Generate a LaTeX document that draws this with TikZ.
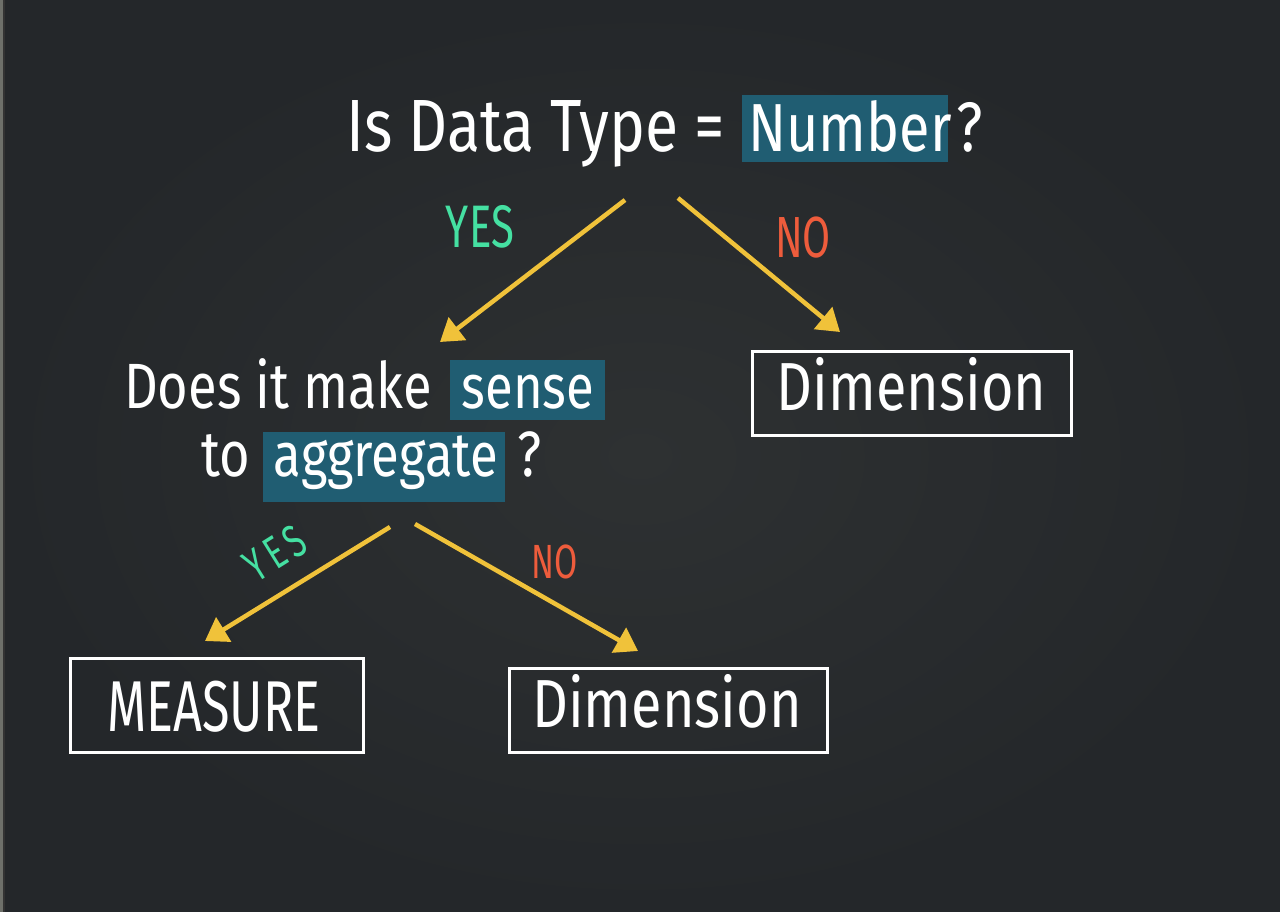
\documentclass[tikz,border=0pt]{standalone}
\usepackage{fontspec}
\setmainfont{Fira Sans}
\newfontfamily\hand[FakeStretch=0.82]{Fira Sans}
\newfontfamily\handnarrow[FakeStretch=0.7]{Fira Sans}
\newfontfamily\handspaced[FakeStretch=0.7,LetterSpace=12]{Fira Sans}
\usetikzlibrary{arrows.meta,calc}
\definecolor{board}{HTML}{2E3132}
\definecolor{boarddark}{HTML}{24272A}
\definecolor{hilite}{HTML}{205D72}
\definecolor{chalkyellow}{HTML}{F0C23A}
\definecolor{chalkgreen}{HTML}{45E0A2}
\definecolor{chalkred}{HTML}{EE5C3C}
\definecolor{edge}{HTML}{6E706A}
\tikzset{
  handtext/.style={text=white,font=\hand\fontsize{#1}{#1}\selectfont,inner sep=0pt,anchor=base},
  handtext/.default=64,
  hl/.style={fill=hilite},
  answerbox/.style={draw=white,line width=3pt,inner sep=0pt},
  flow/.style={draw=chalkyellow,line width=4.5pt,-{Triangle[width=28pt,length=22pt]}},
  yeslabel/.style={text=chalkgreen,font=\handnarrow\fontsize{60}{60}\selectfont,inner sep=0pt},
  nolabel/.style={text=chalkred,font=\handnarrow\fontsize{58}{58}\selectfont,inner sep=0pt}
}
\begin{document}
\begin{tikzpicture}[x=1pt,y=-1pt]
\useasboundingbox (0,0) rectangle (1280,912);
\shade[inner color=board,outer color=boarddark] (0,0) rectangle (1280,912);
\fill[edge] (0,0) rectangle (3,912);
\fill[black!80] (3,0) rectangle (5,912);
% highlights
\fill[hl] (742,95) rectangle (948,162);
\fill[hl] (450,360) rectangle (605,420);
\fill[hl] (263,432) rectangle (505,502);
% title
\node[handtext=74] (title) at (536,152) {Is Data Type =};
\node[handtext=68] (num) at (850,152) {Number};
\node[handtext=70] (qm1) at (970,152) {?};
% second question
\node[handtext=64] (q2a) at (278,408) {Does it make};
\node[handtext=62] (sense) at (528,408) {sense};
\node[handtext=64] (q2b) at (226,476) {to};
\node[handtext=62] (agg) at (386,476) {aggregate};
\node[handtext=64] (qm2) at (530,476) {?};
% boxes
\node[answerbox,minimum width=319pt,minimum height=84pt] (dim1) at (911.5,393) {};
\node[handtext=68] (dim1t) at (911.5,410) {Dimension};
\node[answerbox,minimum width=293pt,minimum height=94pt] (meas) at (216.5,705) {};
\node[handtext=72,font=\handnarrow\fontsize{72}{72}\selectfont] (meast) at (214,731) {MEASURE};
\node[answerbox,minimum width=318pt,minimum height=84pt] (dim2) at (668,710) {};
\node[handtext=68] (dim2t) at (667,727) {Dimension};
% arrow endpoints
\coordinate (a1s) at (625,200);
\coordinate (a1e) at (440,342);
\coordinate (a2s) at (678,198);
\coordinate (a2e) at (840,332);
\coordinate (a3s) at (390,527);
\coordinate (a3e) at (205,641);
\coordinate (a4s) at (415,524);
\coordinate (a4e) at (638,651);
\draw[flow] (a1s) -- (a1e);
\draw[flow] (a2s) -- (a2e);
\draw[flow] (a3s) -- (a3e);
\draw[flow] (a4s) -- (a4e);
% labels
\node[yeslabel] (yes1) at (480,227) {YES};
\node[nolabel] (no1) at (803,238) {NO};
\node[yeslabel,rotate=32,font=\handspaced\fontsize{46}{46}\selectfont] (yes2) at (275,553) {YES};
\node[nolabel,font=\handnarrow\fontsize{48}{48}\selectfont] (no2) at (555,562) {NO};
\end{tikzpicture}
\end{document}
